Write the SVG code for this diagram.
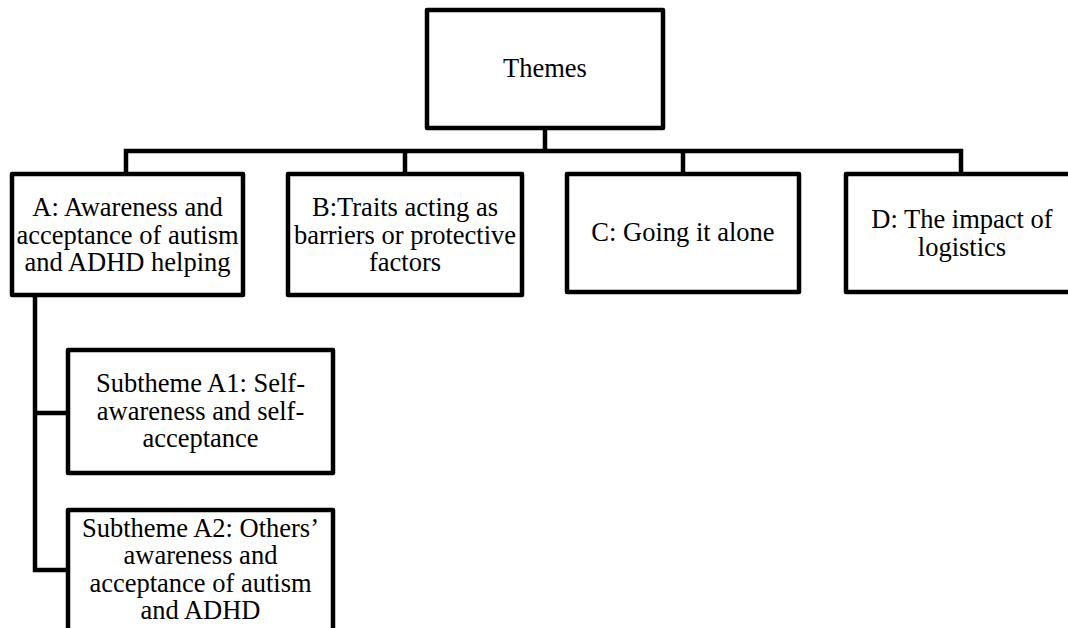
<svg xmlns="http://www.w3.org/2000/svg" width="1068" height="628" viewBox="0 0 1068 628">
<style>
.box{fill:#fff;stroke:#000;stroke-width:4.5;stroke-linejoin:round}
.ln{fill:none;stroke:#000;stroke-width:4.5;stroke-linecap:square}
text{font-family:"Liberation Serif","Times New Roman",serif;font-size:26.5px;fill:#000;text-anchor:middle}
</style>
<rect width="1068" height="628" fill="#fff"/>
<g id="connectors">
<path class="ln" d="M545 128V151M126 151H961M126 151V174M405 151V174M683 151V174M961 151V174"/>
<path class="ln" d="M35 295V570M35 413H68M35 570H68"/>
</g>
<g id="themes"><rect class="box" x="427" y="10" width="236" height="118"/><text x="545" y="77">Themes</text></g>
<g id="A"><rect class="box" x="12" y="174" width="231" height="121"/><text x="127.5" y="216">A: Awareness and</text><text x="127.5" y="243.5">acceptance of autism</text><text x="127.5" y="271">and ADHD helping</text></g>
<g id="B"><rect class="box" x="288" y="174" width="234" height="121"/><text x="405" y="216">B:Traits acting as</text><text x="405" y="243.5">barriers or protective</text><text x="405" y="271">factors</text></g>
<g id="C"><rect class="box" x="567" y="174" width="232" height="118"/><text x="683" y="241">C: Going it alone</text></g>
<g id="D"><rect class="box" x="846" y="174" width="232" height="118"/><text x="962" y="228">D: The impact of</text><text x="962" y="256">logistics</text></g>
<g id="A1"><rect class="box" x="68" y="350" width="265" height="123"/><text x="200.5" y="392">Subtheme A1: Self-</text><text x="200.5" y="419.5">awareness and self-</text><text x="200.5" y="447">acceptance</text></g>
<g id="A2"><rect class="box" x="68" y="510" width="265" height="140"/><text x="200.5" y="536.5">Subtheme A2: Others’</text><text x="200.5" y="564">awareness and</text><text x="200.5" y="591.5">acceptance of autism</text><text x="200.5" y="619">and ADHD</text></g>
</svg>
